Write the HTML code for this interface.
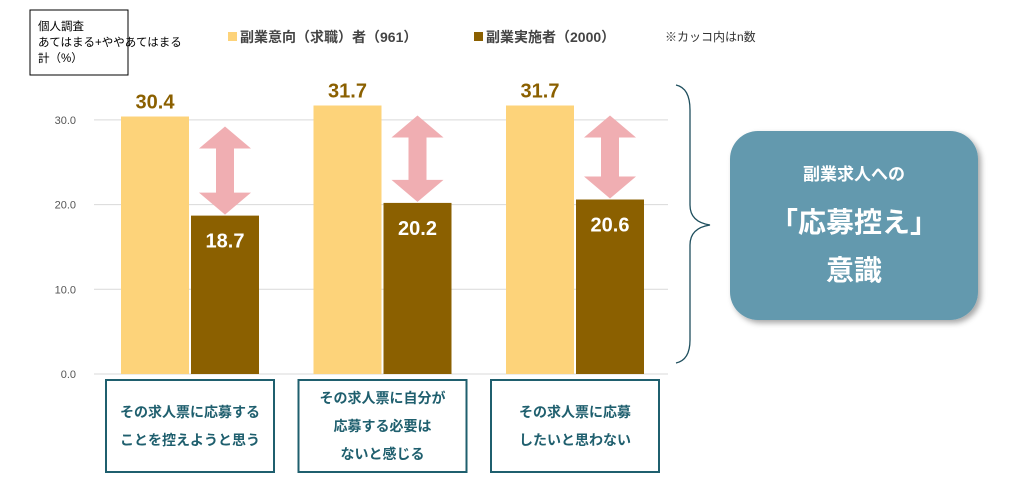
<!DOCTYPE html>
<html><head><meta charset="utf-8"><style>
body{margin:0;width:1015px;height:480px;background:#fff;overflow:hidden;font-family:"Liberation Sans","Noto Sans CJK JP",sans-serif}
</style></head><body>
<svg width="1015" height="480" xmlns="http://www.w3.org/2000/svg" font-family="Liberation Sans, Noto Sans CJK JP, sans-serif">
<defs><filter id="sh" x="-10%" y="-10%" width="130%" height="130%"><feDropShadow dx="3" dy="3" stdDeviation="3" flood-color="#000" flood-opacity="0.35"/></filter></defs>
<g id="grid"></g>
<g id="bars"></g>
<rect x="30" y="10" width="98" height="65" fill="#fff" stroke="#000" stroke-width="1"/>
<text font-size="11.5" fill="#000"><tspan x="38" y="30">個人調査</tspan><tspan x="38" y="46">あてはまる+ややあてはまる</tspan><tspan x="38" y="62">計（%）</tspan></text>
<g>
<rect x="228" y="32" width="9" height="9" fill="#FDD37A"/>
<text x="240" y="42" font-size="14" font-weight="bold" fill="#444">副業意向（求職）者（961）</text>
<rect x="474" y="32" width="9" height="9" fill="#8B6000"/>
<text x="486" y="42" font-size="14" font-weight="bold" fill="#444">副業実施者（2000）</text>
<text x="665" y="41" font-size="12" fill="#333">※カッコ内はn数</text>
</g>
<path d="M676,85 Q690,88 690,110 L690,205 Q690,222 710,225 Q690,228 690,245 L690,340 Q690,360 676,363" fill="none" stroke="#1f4f5e" stroke-width="1.3"/>
<rect x="730" y="131" width="248" height="189" rx="28" fill="#6399AE" filter="url(#sh)"/>
<text x="854" y="180" font-size="17" font-weight="bold" fill="#fff" text-anchor="middle">副業求人への</text>
<text x="854" y="232" font-size="28" font-weight="bold" fill="#fff" text-anchor="middle">「応募控え」</text>
<text x="854" y="280" font-size="28" font-weight="bold" fill="#fff" text-anchor="middle">意識</text>
<g id="cats"></g>
</svg>
<script>
const categories=[["その求人票に応募する","ことを控えようと思う"],["その求人票に自分が","応募する必要は","ないと感じる"],["その求人票に応募","したいと思わない"]];
const intentValues=[30.4,31.7,31.7];
const practiceValues=[18.7,20.2,20.6];
const tickValues=[0,10,20,30];
const tickLabels=["0.0","10.0","20.0","30.0"];
const NS="http://www.w3.org/2000/svg";
const y0=374,ppu=8.47;
const y=v=>y0-v*ppu;
const groupX=i=>190+i*192.5;
function el(t,a,p){const e=document.createElementNS(NS,t);for(const k in a)e.setAttribute(k,a[k]);p.appendChild(e);return e;}
const grid=document.getElementById('grid'),bars=document.getElementById('bars'),cats=document.getElementById('cats');
tickValues.forEach((v,i)=>{
 const l=el('line',{x1:94,x2:668,y1:y(v),y2:y(v),stroke:'#d9d9d9','stroke-width':1},grid);
 
 
 const t=el('text',{x:76,y:y(v)+4,'font-size':11,fill:'#555','text-anchor':'end'},grid);
 
 
 t.textContent=tickLabels[i];
});
categories.forEach((c,i)=>{
 const cx=groupX(i);
 const a=el('rect',{x:cx-69,y:y(intentValues[i]),width:68,height:intentValues[i]*ppu,fill:'#FDD37A'},bars);
 
 
 const b=el('rect',{x:cx+1,y:y(practiceValues[i]),width:68,height:practiceValues[i]*ppu,fill:'#8B6000'},bars);
 
 
 const ta=el('text',{x:cx-35,y:y(intentValues[i])-8,'font-size':20,'font-weight':'bold',fill:'#8B6000','text-anchor':'middle'},bars);
 
 
 ta.textContent=intentValues[i].toFixed(1);
 const tb=el('text',{x:cx+35,y:y(practiceValues[i])+32,'font-size':20,'font-weight':'bold',fill:'#fff','text-anchor':'middle'},bars);
 
 
 tb.textContent=practiceValues[i].toFixed(1);
 const ax=cx+35,top=y(intentValues[i])+10,bot=y(practiceValues[i])-1,h=22,w=26,s=9;
 const ar=el('path',{d:`M${ax},${top} L${ax+w},${top+h} L${ax+s},${top+h} L${ax+s},${bot-h} L${ax+w},${bot-h} L${ax},${bot} L${ax-w},${bot-h} L${ax-s},${bot-h} L${ax-s},${top+h} L${ax-w},${top+h} Z`,fill:'#F0AEB2'},bars);
 
 
 const bx=cx-84;
 const r=el('rect',{x:bx,y:380,width:168,height:92,fill:'#fff',stroke:'#1F5F6E','stroke-width':2},cats);
 
 
 const n=c.length,sy=426-(n-1)*14;
 c.forEach((line,j)=>{
  const t=el('text',{x:cx,y:sy+j*28+5,'font-size':14,'font-weight':'bold',fill:'#1F5F6E','text-anchor':'middle'},cats);
  
  
  t.textContent=line;
 });
});
</script>
</body></html>
